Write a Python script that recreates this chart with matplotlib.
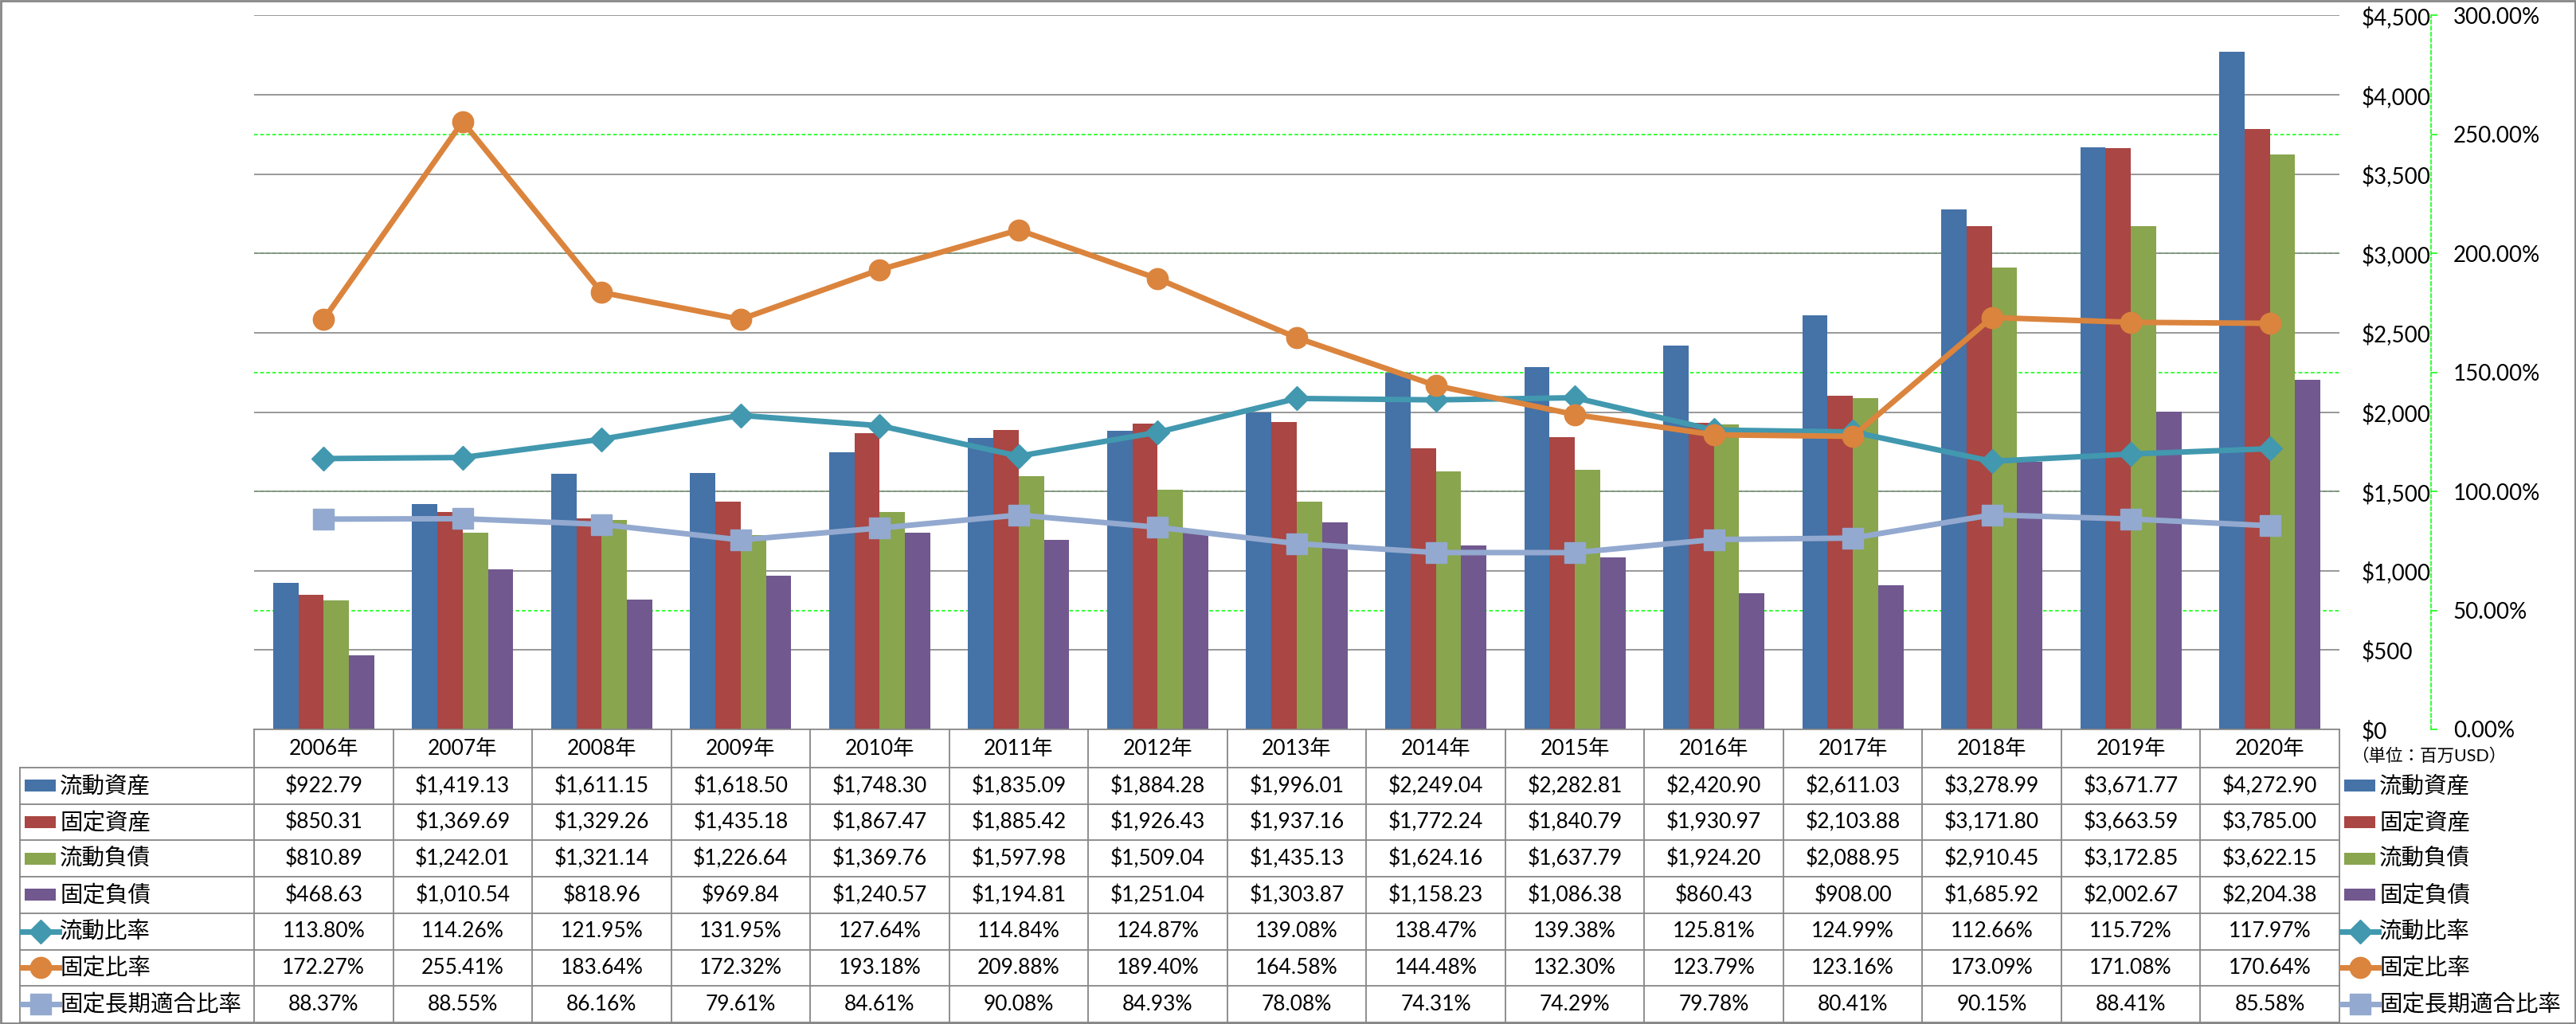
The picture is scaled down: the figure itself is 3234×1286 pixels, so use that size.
import matplotlib
matplotlib.use("Agg")
import matplotlib.pyplot as plt
from matplotlib.patches import Rectangle
import numpy as np

# Data

years = ["2006年", "2007年", "2008年", "2009年", "2010年", "2011年", "2012年", "2013年",
         "2014年", "2015年", "2016年", "2017年", "2018年", "2019年", "2020年"]

current_assets = [922.79, 1419.13, 1611.15, 1618.50, 1748.30, 1835.09, 1884.28, 1996.01,
                  2249.04, 2282.81, 2420.90, 2611.03, 3278.99, 3671.77, 4272.90]
fixed_assets = [850.31, 1369.69, 1329.26, 1435.18, 1867.47, 1885.42, 1926.43, 1937.16,
                1772.24, 1840.79, 1930.97, 2103.88, 3171.80, 3663.59, 3785.00]
current_liab = [810.89, 1242.01, 1321.14, 1226.64, 1369.76, 1597.98, 1509.04, 1435.13,
                1624.16, 1637.79, 1924.20, 2088.95, 2910.45, 3172.85, 3622.15]
fixed_liab = [468.63, 1010.54, 818.96, 969.84, 1240.57, 1194.81, 1251.04, 1303.87,
              1158.23, 1086.38, 860.43, 908.00, 1685.92, 2002.67, 2204.38]

current_ratio = [113.80, 114.26, 121.95, 131.95, 127.64, 114.84, 124.87, 139.08,
                 138.47, 139.38, 125.81, 124.99, 112.66, 115.72, 117.97]
fixed_ratio = [172.27, 255.41, 183.64, 172.32, 193.18, 209.88, 189.40, 164.58,
               144.48, 132.30, 123.79, 123.16, 173.09, 171.08, 170.64]
fixed_lt_ratio = [88.37, 88.55, 86.16, 79.61, 84.61, 90.08, 84.93, 78.08,
                  74.31, 74.29, 79.78, 80.41, 90.15, 88.41, 85.58]

bar_series = [("流動資産", current_assets, "#4572A7"),
              ("固定資産", fixed_assets, "#AA4643"),
              ("流動負債", current_liab, "#89A54E"),
              ("固定負債", fixed_liab, "#71588F")]
line_series = [("流動比率", current_ratio, "#4198AF", "D", 15),
               ("固定比率", fixed_ratio, "#DB843D", "o", 19),
               ("固定長期適合比率", fixed_lt_ratio, "#93A9CF", "s", 19)]

# Layout (pixels)

plt.rcParams["font.family"] = ["Lato", "Noto Sans CJK JP"]
W, H = 3234, 1286
L, R, T, B = 319, 2937, 19.5, 916
row_top, row_h = 964, 45.7
grid_col = "#868686"

fig = plt.figure(figsize=(W / 100, H / 100), dpi=100)
fig.patch.set_facecolor("white")

tab = fig.add_axes([0, 0, 1, 1])
tab.set_xlim(0, W)
tab.set_ylim(H, 0)
tab.axis("off")

ax = fig.add_axes([L / W, 1 - B / H, (R - L) / W, (B - T) / H])
ax.patch.set_visible(False)
x = np.arange(len(years))
bw = 0.182

for k, (name, vals, color) in enumerate(bar_series):
    ax.bar(x + (k - 1.5) * bw, vals, bw, color=color, zorder=2)

ax.set_xlim(-0.5, len(years) - 0.5)
ax.set_ylim(0, 4500)
ax.set_xticks([])

# secondary gridlines (drawn behind the bars and the grey grid)
pct_ticks = np.arange(0, 301, 50)
for p in pct_ticks[1:-1]:
    ax.axhline(p * 4500 / 300, color="#00FF00", lw=1.1, ls=(0, (3, 2)), zorder=0.3)

ax2 = ax.twinx()
ax2.set_ylim(0, 300)
ax2.set_yticks(pct_ticks)
ax2.set_yticklabels([f"{p:.2f}%" for p in pct_ticks])
for s in ["left", "top", "bottom"]:
    ax2.spines[s].set_visible(False)
ax2.spines["right"].set_position(("outward", 82.8))
ax2.spines["right"].set_color("#00FF00")
ax2.spines["right"].set_linestyle((0, (3, 2)))
ax2.spines["right"].set_linewidth(1.1)
ax2.tick_params(axis="y", length=6, width=1.1, color="#00FF00", pad=14, labelsize=20)

# primary labels sit on the right, between plot and secondary axis
ax.set_yticks(range(0, 4501, 500))
ax.set_yticklabels([f"${v:,}" for v in range(0, 4501, 500)])
ax.yaxis.tick_right()
ax.tick_params(axis="y", length=0, pad=20, labelsize=20, labelleft=False, labelright=True)
ax.yaxis.grid(True, color=grid_col, lw=1.2)
ax.set_axisbelow(True)
for s in ["left", "right", "top"]:
    ax.spines[s].set_visible(False)
ax.spines["bottom"].set_color(grid_col)
ax.spines["bottom"].set_linewidth(1.2)

for name, vals, color, mk, ms in line_series:
    ax2.plot(x, vals, color=color, lw=5, marker=mk, ms=ms, mec=color,
             solid_joinstyle="round", zorder=3)

# Data table

col_w = (R - L) / len(years)
lc = grid_col
n_rows = len(bar_series) + len(line_series)
for k in range(n_rows + 1):
    y = row_top + k * row_h
    tab.plot([25, R], [y, y], color=lc, lw=1.3)
tab.plot([25, 25], [row_top, row_top + n_rows * row_h], color=lc, lw=1.3)
for j in range(len(years) + 1):
    xx = L + j * col_w
    tab.plot([xx, xx], [B, row_top + n_rows * row_h], color=lc, lw=1.3)

for i, yr in enumerate(years):
    tab.text(L + (i + 0.5) * col_w, (B + row_top) / 2, yr, ha="center", va="center", fontsize=19)

rows = [(n, [f"${v:,.2f}" for v in vals], ("bar", c)) for n, vals, c in bar_series]
rows += [(n, [f"{v:.2f}%" for v in vals], ("line", c, mk, ms)) for n, vals, c, mk, ms in line_series]

for r, (name, texts, key) in enumerate(rows):
    yc = row_top + (r + 0.5) * row_h
    for i, t in enumerate(texts):
        tab.text(L + (i + 0.5) * col_w, yc, t, ha="center", va="center", fontsize=19)
    for kx, tx in [(31, 75), (2943, 2987)]:
        if key[0] == "bar":
            tab.add_patch(Rectangle((kx, yc - 7.5), 39, 15, color=key[1], lw=0))
        else:
            tab.plot([kx - 3, kx + 43], [yc, yc], color=key[1], lw=5)
            tab.plot([kx + 20], [yc], marker=key[2], ms=key[3], color=key[1], mec=key[1])
        tab.text(tx, yc, name, ha="left", va="center", fontsize=20.5)

tab.text(2952, 950, "（単位：百万USD）", ha="left", va="center", fontsize=15.5)

# outer border
tab.add_patch(Rectangle((1, 1), W - 2, H - 2, fill=False, ec=grid_col, lw=2))

fig.savefig("out.png", dpi=100)
